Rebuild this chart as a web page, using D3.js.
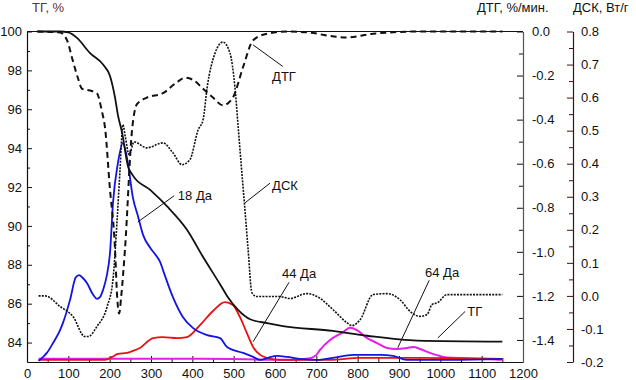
<!DOCTYPE html>
<html>
<head>
<meta charset="utf-8">
<script src="https://cdn.jsdelivr.net/npm/d3@7"></script>
<style>
  body { margin: 0; background: #fff; }
  svg  { display: block; font-family: "Liberation Sans", Arial, sans-serif; }
</style>
</head>
<body>
<div id="chart"></div>
<script>
"use strict";

/* ── Data: [temperature, value] ── */
const tg = [[25,100],[80,100],[100,99.95],[121,99.67],[152,98.9],[184,98.3],[201,97.7],[213,96.6],
  [220,95.7],[230,94.8],[244,93.1],[256,92.6],[298,91.85],[339,91.0],[387,89.8],[426,88.4],[467,87.0],
  [484,86.4],[510,85.7],[540,85.2],[581,85.0],[619,84.85],[740,84.6],[823,84.35],[944,84.1],[1150,84.05]];

const dtg = [[25,0],[80,-0.005],[97,-0.04],[109,-0.12],[123,-0.21],[133,-0.26],[157,-0.27],[169,-0.28],
  [181,-0.36],[189,-0.44],[200,-0.70],[213,-0.99],[218,-1.2],[223,-1.28],[228,-1.2],[237,-0.99],
  [254,-0.45],[266,-0.33],[290,-0.30],[329,-0.28],[363,-0.23],[382,-0.21],[402,-0.22],[426,-0.26],
  [450,-0.30],[474,-0.335],[498,-0.30],[523,-0.16],[547,-0.04],[581,-0.01],[629,0],[685,-0.005],
  [726,-0.018],[774,-0.027],[837,-0.01],[951,0],[1150,0]];

const dsc = [[28,0],[44,0],[80,-0.032],[111,-0.062],[140,-0.123],[148,-0.123],[169,-0.093],[194,-0.032],
  [208,0.049],[218,0.23],[225,0.38],[232,0.518],[238,0.48],[247,0.427],[259,0.466],[290,0.448],
  [329,0.463],[353,0.433],[375,0.397],[394,0.412],[414,0.502],[426,0.533],[436,0.632],[455,0.735],
  [474,0.768],[491,0.735],[503,0.632],[511,0.51],[518,0.40],[526,0.28],[535,0.14],[544,0.01],
  [556,-0.002],[612,-0.002],[636,-0.008],[677,0.007],[702,-0.002],[740,-0.041],[774,-0.081],
  [786,-0.09],[806,-0.072],[837,0.004],[871,0.007],[902,-0.011],[927,-0.047],[951,-0.062],
  [968,-0.056],[980,-0.026],[994,-0.02],[1016,0.004],[1065,0.004],[1150,0.004]];

/* ion currents, arbitrary units */
const ms18 = [[28,0.2],[39,1.4],[48,2.6],[63,5.6],[80,9.5],[87,11.7],[104,18.6],[118,25.5],[126,26.2],
  [135,25.3],[145,23.8],[160,20.2],[169,19.0],[177,19.6],[184,21.7],[193,26],[201,33.2],[208,48.0],
  [220,60.2],[232,66.2],[244,60.2],[256,49.8],[269,43.8],[281,38.3],[298,34.5],[314,31.8],[322,30.2],
  [329,27.7],[353,19.5],[377,13.5],[402,10.1],[436,8.0],[467,7.1],[484,4.4],[523,2.6],[547,1.4],
  [564,0.5],[585,1.2],[605,1.7],[629,1.4],[661,0.8],[702,0.5],[740,1.1],[789,2.0],[854,2.0],
  [886,1.7],[919,0.5],[1023,0.5],[1150,0.8]];

const ms44 = [[28,0.5],[189,0.5],[206,1.4],[220,2.3],[242,2.6],[256,3.2],[273,4.1],[305,7.1],[329,7.4],
  [363,7.1],[387,7.4],[419,11.1],[450,15.3],[479,18.0],[498,17.1],[515,13.5],[532,8.6],[547,4.4],
  [564,2.0],[581,1.1],[612,0.5],[733,0.5],[806,1.1],[951,1.1],[1150,0.8]];

const ms64 = [[28,0.8],[419,0.8],[636,0.5],[685,1.0],[700,2.0],[709,3.5],[733,6.5],[765,8.9],[781,10.2],
  [798,9.5],[823,7.1],[847,5.6],[871,4.1],[895,3.8],[919,4.1],[934,4.4],[951,3.8],[975,2.6],
  [1007,1.4],[1031,1.1],[1103,0.8],[1150,0.5]];

/* ── Tick labels ── */
const xTicks   = [0,100,200,300,400,500,600,700,800,900,1000,1100,1200];
const tgTicks  = [84,86,88,90,92,94,96,98,100];
const dtgTicks = [0,-0.2,-0.4,-0.6,-0.8,-1.0,-1.2,-1.4];
const dscTicks = [-0.2,-0.1,0,0.1,0.2,0.3,0.4,0.5,0.6,0.7,0.8];

/* ── Curve labels: leader from → to, text at (temperature, ТГ units) ── */
const notes = [
  { text: "18 Да", from: [268, 90.2],  to: [356, 91.55], at: [365, 91.34] },
  { text: "ДТГ",   from: [547, 99.31], to: [619, 98.2],  at: [593, 97.46] },
  { text: "ДСК",   from: [527, 91.18], to: [588, 92.2],  at: [593, 91.85] },
  { text: "44 Да", from: [547, 84.04], to: [634, 87.1],  at: [617, 87.33] },
  { text: "64 Да", from: [897, 83.73], to: [973, 87.2],  at: [963, 87.38] },
  { text: "ТГ",    from: [994, 84.24], to: [1060, 85.6], at: [1065, 85.37] }
];

/* ── Layout ── */
const W = 636, H = 380;
const padL = 27, padR = 523, padT = 31.5, padB = 362, dscX = 573;

const x    = d3.scaleLinear([0, 1200], [padL, padR]);
const yTg  = d3.scaleLinear([83, 100], [padB, padT]);
const yDtg = d3.scaleLinear([-1.5, 0], [padB, padT]);
const yDsc = d3.scaleLinear([-0.2, 0.8], [padB, padT]);
const yMs  = d3.scaleLinear([0, 100], [padB - 0.5, padT]);

const svg = d3.select("#chart").append("svg")
  .attr("width", W).attr("height", H);

const fmt1 = d3.format(".1f");
const fmtNeg = v => (v < 0 ? "-" : "") + fmt1(Math.abs(v));

function styleAxis(g) {
  g.selectAll("text").attr("font-size", "13px").attr("fill", "#111")
    .attr("font-family", "'Liberation Sans', Arial, sans-serif");
  g.selectAll("line").attr("stroke", "#111");
}

/* ── Axes ── */
svg.append("g").attr("transform", `translate(0,${padB})`)
  .call(d3.axisBottom(x).tickValues(d3.range(50, 1200, 100)).tickFormat("").tickSize(-4).tickSizeOuter(0))
  .call(g => g.select(".domain").remove())
  .call(styleAxis);
svg.append("g").attr("transform", `translate(0,${padB})`)
  .call(d3.axisBottom(x).tickValues(xTicks).tickFormat(d3.format("d")).tickSize(-6).tickSizeOuter(0).tickPadding(7))
  .call(g => g.select(".domain").attr("stroke", "#111").attr("stroke-width", 1.2))
  .call(styleAxis);

svg.append("g").attr("transform", `translate(${padL},0)`)
  .call(d3.axisLeft(yTg).tickValues(d3.range(85, 100, 2)).tickFormat("").tickSize(-3).tickSizeOuter(0))
  .call(g => g.select(".domain").remove())
  .call(styleAxis);
svg.append("g").attr("transform", `translate(${padL},0)`)
  .call(d3.axisLeft(yTg).tickValues(tgTicks).tickFormat(d3.format("d")).tickSize(-5).tickSizeOuter(0).tickPadding(5))
  .call(g => g.select(".domain").attr("stroke", "#111").attr("stroke-width", 1.2))
  .call(styleAxis);

svg.append("g").attr("transform", `translate(${padR},0)`)
  .call(d3.axisRight(yDtg).tickValues(d3.range(-1.5, 0, 0.2)).tickFormat("").tickSize(-4).tickSizeOuter(0))
  .call(g => g.select(".domain").remove())
  .call(styleAxis);
svg.append("g").attr("transform", `translate(${padR},0)`)
  .call(d3.axisRight(yDtg).tickValues(dtgTicks).tickFormat(fmtNeg).tickSize(-6).tickSizeOuter(0).tickPadding(9))
  .call(g => g.select(".domain").attr("stroke", "#555").attr("stroke-width", 1.2))
  .call(styleAxis);

svg.append("g").attr("transform", `translate(${dscX},0)`)
  .call(d3.axisRight(yDsc).tickValues(d3.range(-0.15, 0.8, 0.1)).tickFormat("").tickSize(-4).tickSizeOuter(0))
  .call(g => g.select(".domain").remove())
  .call(styleAxis)
  .call(g => g.selectAll("line").attr("stroke", "#3a1414"));
svg.append("g").attr("transform", `translate(${dscX},0)`)
  .call(d3.axisRight(yDsc).tickValues(dscTicks).tickFormat(fmtNeg).tickSize(-6).tickSizeOuter(0).tickPadding(8))
  .call(styleAxis)
  .call(g => g.selectAll("line").attr("stroke", "#3a1414"))
  .call(g => g.select(".domain").attr("stroke", "#3a1414").attr("stroke-width", 1.2));

/* top frame */
svg.append("line")
  .attr("x1", x(0)).attr("x2", x(1200)).attr("y1", yTg(100)).attr("y2", yTg(100))
  .attr("stroke", "#111").attr("stroke-width", 1.2);

/* ── Axis titles ── */
const titles = [
  { text: "ТГ, %",       x: 32,  fill: "#6a2c2c" },
  { text: "ДТГ, %/мин.", x: 477, fill: "#111" },
  { text: "ДСК, Вт/г",   x: 573, fill: "#111" }
];
svg.selectAll("text.title").data(titles).join("text")
  .attr("class", "title")
  .attr("x", d => d.x).attr("y", 12)
  .attr("font-size", "13px").attr("fill", d => d.fill)
  .text(d => d.text);

/* ── Lines ── */
const plot = svg.append("g");
const lineOf = yScale => d3.line()
  .x(d => x(d[0])).y(d => yScale(d[1]))
  .curve(d3.curveMonotoneX);

const series = [
  { data: ms64, y: yMs,  stroke: "#e61ee6", width: 2 },
  { data: ms44, y: yMs,  stroke: "#e81010", width: 1.8 },
  { data: ms18, y: yMs,  stroke: "#1414e0", width: 1.8 },
  { data: dsc,  y: yDsc, stroke: "#111",    width: 1.6, dash: "2,1.2" },
  { data: dtg,  y: yDtg, stroke: "#111",    width: 2,   dash: "6,4" },
  { data: tg,   y: yTg,  stroke: "#111",    width: 1.8 }
];

plot.selectAll("path.series").data(series).join("path")
  .attr("class", "series")
  .attr("fill", "none")
  .attr("stroke", d => d.stroke)
  .attr("stroke-width", d => d.width)
  .attr("stroke-dasharray", d => d.dash || null)
  .attr("d", d => lineOf(d.y)(d.data));

/* ── Curve labels ── */
const noteG = svg.append("g");
noteG.selectAll("line").data(notes).join("line")
  .attr("x1", d => x(d.from[0])).attr("y1", d => yTg(d.from[1]))
  .attr("x2", d => x(d.to[0])).attr("y2", d => yTg(d.to[1]))
  .attr("stroke", "#111").attr("stroke-width", 1);
noteG.selectAll("text").data(notes).join("text")
  .attr("x", d => x(d.at[0])).attr("y", d => yTg(d.at[1]))
  .attr("font-size", "13px").attr("fill", "#111")
  .text(d => d.text);
</script>
</body>
</html>
